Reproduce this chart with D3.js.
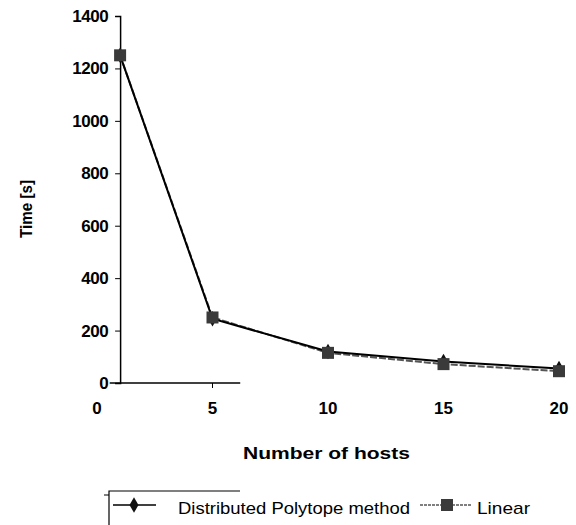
<!DOCTYPE html>
<html lang="en">
<head>
  <meta charset="UTF-8">
  <title>Time vs hosts</title>
  <script src="https://d3js.org/d3.v7.min.js"></script>
  <style>
    body { margin: 0; background: #fff; }
    text { font-family: "Liberation Sans", Arial, sans-serif; fill: #000; }
  </style>
</head>
<body>
<div id="chart"></div>
<script>
  // data
  const hosts = [1, 5, 10, 15, 20];
  const distributed = [1250, 245, 120, 82, 55];
  const linear = [1250, 250, 115, 72, 45];
  const yTicks = [0, 200, 400, 600, 800, 1000, 1200, 1400];
  const xTicks = [0, 5, 10, 15, 20];

  const w = 576, h = 525;

  const svg = d3.select("#chart").append("svg")
    .attr("width", w)
    .attr("height", h);

  const x = d3.scaleLinear().domain([0, 20]).range([97, 559]);
  const y = d3.scaleLinear().domain([0, 1400]).range([383, 16]);

  // y axis sits at the first data point (1 host)
  const yAxis = d3.axisLeft(y).tickValues(yTicks).tickFormat(d3.format("d"))
    .tickSize(5).tickPadding(7);
  const gy = svg.append("g")
    .attr("transform", `translate(${x(1)},0)`)
    .call(yAxis);
  gy.select(".domain").attr("stroke", "#000").attr("stroke-width", 1.5);
  gy.selectAll("text")
    .style("font-size", "17px")
    .style("font-weight", "bold")
    .style("letter-spacing", "-0.5px");

  // short x axis stub, like in the scan
  svg.append("line")
    .attr("x1", x(0.55)).attr("x2", x(6.2))
    .attr("y1", y(0)).attr("y2", y(0))
    .attr("stroke", "#000").attr("stroke-width", 1.5);
  svg.append("line")
    .attr("x1", x(5)).attr("x2", x(5))
    .attr("y1", y(0)).attr("y2", y(0) + 5)
    .attr("stroke", "#000").attr("stroke-width", 1);

  svg.append("g").selectAll("text")
    .data(xTicks)
    .enter()
    .append("text")
    .attr("x", (d) => x(d))
    .attr("y", 414)
    .attr("text-anchor", "middle")
    .style("font-size", "17px")
    .style("font-weight", "bold")
    .text((d) => d);

  // axis titles
  svg.append("text")
    .attr("x", 243).attr("y", 459)
    .attr("textLength", 167)
    .attr("lengthAdjust", "spacingAndGlyphs")
    .style("font-size", "17px")
    .style("font-weight", "bold")
    .text("Number of hosts");

  svg.append("text")
    .attr("transform", "translate(32,238) rotate(-90)")
    .attr("textLength", 58)
    .attr("lengthAdjust", "spacingAndGlyphs")
    .style("font-size", "16px")
    .style("font-weight", "bold")
    .text("Time [s]");

  const line = d3.line()
    .x((d, i) => x(hosts[i]))
    .y((d) => y(d));

  // linear series (gray, textured)
  svg.append("path")
    .datum(linear)
    .attr("d", line)
    .attr("fill", "none")
    .attr("stroke", "#555")
    .attr("stroke-width", 2)
    .attr("stroke-dasharray", "7,2");

  // distributed polytope series
  svg.append("path")
    .datum(distributed)
    .attr("d", line)
    .attr("fill", "none")
    .attr("stroke", "#000")
    .attr("stroke-width", 2);

  const diamond = d3.symbol().type(d3.symbolDiamond).size(70);

  svg.append("g").selectAll("path")
    .data(distributed)
    .enter()
    .append("path")
    .attr("d", diamond)
    .attr("transform", (d, i) => `translate(${x(hosts[i])},${y(d)})`)
    .attr("fill", "#111");

  svg.append("g").selectAll("rect")
    .data(linear)
    .enter()
    .append("rect")
    .attr("x", (d, i) => x(hosts[i]) - 6)
    .attr("y", (d) => y(d) - 6)
    .attr("width", 12)
    .attr("height", 12)
    .attr("fill", "#3a3a3a");

  // legend (cut off at the bottom of the page)
  const lg = svg.append("g");
  lg.append("path")
    .attr("d", "M109,525 L109,491 L240,491")
    .attr("fill", "none")
    .attr("stroke", "#000")
    .attr("stroke-width", 1.2);
  lg.append("line")
    .attr("x1", 104).attr("x2", 109).attr("y1", 495).attr("y2", 495)
    .attr("stroke", "#000");

  lg.append("line")
    .attr("x1", 113).attr("x2", 156).attr("y1", 505).attr("y2", 505)
    .attr("stroke", "#000").attr("stroke-width", 1.5);
  lg.append("path")
    .attr("d", diamond)
    .attr("transform", "translate(134,505)")
    .attr("fill", "#111");
  lg.append("text")
    .attr("x", 178).attr("y", 514)
    .attr("textLength", 232)
    .attr("lengthAdjust", "spacingAndGlyphs")
    .style("font-size", "17px")
    .text("Distributed Polytope method");

  lg.append("line")
    .attr("x1", 420).attr("x2", 472).attr("y1", 505).attr("y2", 505)
    .attr("stroke", "#555").attr("stroke-width", 1.5)
    .attr("stroke-dasharray", "3,1");
  lg.append("rect")
    .attr("x", 441).attr("y", 499).attr("width", 12).attr("height", 12)
    .attr("fill", "#3a3a3a");
  lg.append("text")
    .attr("x", 477).attr("y", 514)
    .attr("textLength", 53)
    .attr("lengthAdjust", "spacingAndGlyphs")
    .style("font-size", "17px")
    .text("Linear");
</script>
</body>
</html>
